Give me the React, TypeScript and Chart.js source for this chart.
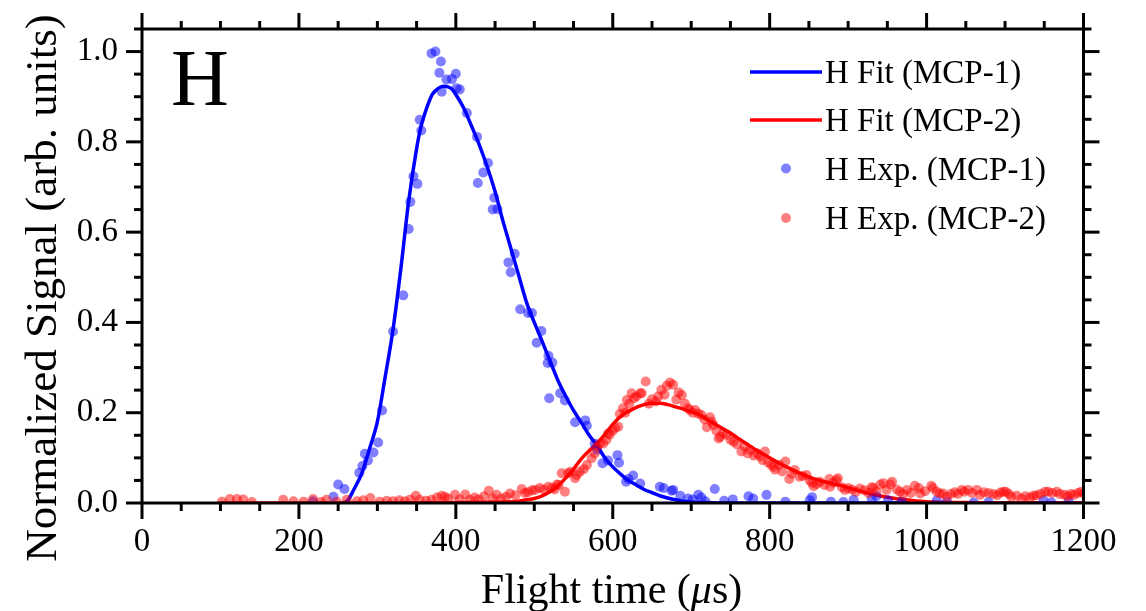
import React, { useEffect, useRef } from 'react';
import { Chart, registerables } from 'chart.js';

Chart.register(...registerables);

const FONT = "'Liberation Serif', 'Times New Roman', serif";

// ---------- axis ticks ----------
const X_TICK_VALUES = [0, 200, 400, 600, 800, 1000, 1200];
const Y_TICK_VALUES = [0, 0.2, 0.4, 0.6, 0.8, 1.0];
const X_MINOR_STEP = 50;
const Y_MINOR_STEP = 0.05;
const X_MIN = 0;
const X_MAX = 1200;
const Y_MIN = 0;
const Y_MAX = 1.05;

// ---------- labels ----------
const SERIES_LABELS = ['H Fit (MCP-1)', 'H Fit (MCP-2)', 'H Exp. (MCP-1)', 'H Exp. (MCP-2)'];
const PANEL_LABEL = 'H';
const Y_TITLE = 'Normalized Signal (arb. units)';

// ---------- fit curves ----------
const FIT1_T = [255, 262, 270, 280, 290, 300, 310, 320, 330, 340, 350, 355, 360, 365, 370, 375, 380, 385, 390, 395, 400, 410, 420, 430, 440, 450, 460, 470, 480, 490, 500, 510, 520, 530, 540, 550, 560, 570, 580, 590, 600, 610, 620, 630, 640, 650, 660, 670, 680, 690, 700, 720, 750, 800, 900, 1000, 1100, 1200];
const FIT1_V = [0, 0.005, 0.03, 0.065, 0.12, 0.18, 0.28, 0.385, 0.52, 0.67, 0.785, 0.83, 0.86, 0.885, 0.905, 0.915, 0.921, 0.923, 0.922, 0.917, 0.905, 0.875, 0.835, 0.793, 0.745, 0.69, 0.625, 0.565, 0.505, 0.445, 0.4, 0.358, 0.315, 0.272, 0.237, 0.205, 0.178, 0.15, 0.127, 0.1, 0.08, 0.064, 0.05, 0.04, 0.03, 0.023, 0.016, 0.011, 0.007, 0.004, 0.002, 0.001, 0, 0, 0, 0, 0, 0];

const FIT2_T = [100, 200, 300, 400, 450, 480, 490, 500, 510, 520, 530, 540, 550, 560, 570, 580, 590, 600, 610, 620, 630, 640, 650, 660, 670, 680, 690, 700, 710, 720, 730, 740, 750, 760, 770, 780, 790, 800, 810, 820, 830, 840, 850, 860, 870, 880, 890, 900, 920, 940, 960, 980, 1000, 1050, 1100, 1200];
const FIT2_V = [0, 0, 0, 0.001, 0.002, 0.004, 0.007, 0.01, 0.016, 0.025, 0.038, 0.055, 0.075, 0.098, 0.116, 0.132, 0.152, 0.174, 0.192, 0.203, 0.212, 0.218, 0.221, 0.221, 0.218, 0.213, 0.208, 0.202, 0.196, 0.185, 0.175, 0.165, 0.155, 0.143, 0.132, 0.12, 0.11, 0.1, 0.09, 0.081, 0.073, 0.065, 0.058, 0.052, 0.047, 0.043, 0.039, 0.034, 0.024, 0.016, 0.01, 0.006, 0.003, 0.001, 0, 0];

// ---------- experimental points ----------
const EXP1_T = [218, 244, 250, 258, 277, 281, 284, 288, 295, 301, 306, 320, 333, 340, 342, 346, 351, 354, 356, 369, 374, 379, 381, 382, 388, 395, 400, 401, 405, 414, 427, 428, 435, 441, 447, 449, 453, 467, 470, 475, 482, 492, 497, 503, 509, 517, 518, 519, 523, 533, 539, 552, 565, 567, 577, 580, 587, 594, 606, 608, 617, 620, 626, 635, 660, 665, 675, 677, 686, 696, 702, 709, 713, 718, 730, 742, 753, 773, 779, 796, 820, 851, 854, 878, 894, 907, 930, 936, 951, 968, 1013, 1026, 1060, 1079, 1149, 1159, 1181];
const EXP1_V = [0.004, 0.014, 0.041, 0.031, 0.067, 0.082, 0.109, 0.094, 0.112, 0.134, 0.205, 0.38, 0.46, 0.607, 0.667, 0.724, 0.707, 0.849, 0.825, 0.996, 1.0, 0.953, 0.978, 0.911, 0.938, 0.939, 0.951, 0.919, 0.916, 0.864, 0.811, 0.709, 0.732, 0.753, 0.65, 0.676, 0.651, 0.533, 0.511, 0.552, 0.429, 0.421, 0.421, 0.355, 0.381, 0.31, 0.326, 0.232, 0.311, 0.243, 0.227, 0.179, 0.183, 0.171, 0.131, 0.118, 0.088, 0.094, 0.106, 0.089, 0.047, 0.053, 0.061, 0.043, 0.036, 0.033, 0.027, 0.029, 0.016, 0.01, 0.008, 0.018, 0.012, 0.004, 0.031, 0.005, 0.008, 0.015, 0.01, 0.018, 0.003, 0.006, 0.013, 0.003, 0.002, 0.007, 0.01, 0.015, 0.006, 0.003, 0.006, 0.003, 0.001, 0.002, 0.006, 0.001, 0.004];

const EXP2_T = [102, 112, 121, 129, 140, 180, 193, 206, 218, 228, 235, 248, 261, 274, 282, 291, 303, 312, 320, 328, 335, 342, 349, 354, 362, 369, 376, 382, 386, 390, 399, 405, 412, 418, 424, 429, 436, 442, 447, 452, 458, 464, 469, 476, 484, 488, 492, 497, 501, 507, 512, 518, 523, 526, 529, 531, 535, 539, 543, 546, 552, 554, 558, 563, 567, 573, 577, 580, 584, 588, 592, 594, 596, 600, 603, 607, 609, 613, 616, 618, 621, 624, 627, 630, 635, 637, 642, 646, 650, 655, 658, 662, 666, 669, 673, 677, 681, 684, 688, 692, 696, 698, 702, 705, 709, 713, 717, 720, 724, 726, 728, 732, 735, 737, 741, 745, 750, 754, 758, 764, 768, 772, 775, 780, 784, 788, 791, 794, 798, 802, 805, 807, 812, 816, 820, 825, 828, 832, 838, 842, 847, 851, 854, 856, 860, 864, 870, 876, 877, 881, 885, 887, 892, 896, 900, 905, 910, 915, 921, 926, 930, 932, 936, 941, 945, 949, 954, 956, 962, 966, 970, 975, 980, 985, 990, 992, 998, 1006, 1008, 1013, 1017, 1021, 1026, 1031, 1036, 1040, 1045, 1048, 1053, 1058, 1064, 1068, 1073, 1079, 1085, 1090, 1094, 1098, 1101, 1105, 1108, 1115, 1121, 1126, 1132, 1136, 1140, 1145, 1151, 1155, 1160, 1166, 1170, 1176, 1180, 1184, 1188, 1193, 1197, 1200];
const EXP2_V = [0.003, 0.009, 0.009, 0.008, 0.002, 0.007, 0.004, 0.003, 0.009, 0.002, 0.007, 0.003, 0.007, 0.004, 0.006, 0.011, 0.003, 0.005, 0.004, 0.006, 0.004, 0.008, 0.016, 0.007, 0.005, 0.007, 0.012, 0.016, 0.014, 0.01, 0.018, 0.008, 0.019, 0.007, 0.012, 0.008, 0.015, 0.027, 0.01, 0.018, 0.01, 0.014, 0.021, 0.017, 0.031, 0.022, 0.024, 0.028, 0.029, 0.033, 0.03, 0.036, 0.034, 0.03, 0.041, 0.04, 0.066, 0.025, 0.066, 0.069, 0.055, 0.062, 0.069, 0.075, 0.084, 0.099, 0.11, 0.125, 0.132, 0.132, 0.14, 0.154, 0.151, 0.16, 0.166, 0.169, 0.197, 0.21, 0.2, 0.228, 0.22, 0.243, 0.232, 0.236, 0.243, 0.243, 0.269, 0.22, 0.23, 0.225, 0.236, 0.251, 0.24, 0.26, 0.267, 0.262, 0.229, 0.245, 0.239, 0.22, 0.21, 0.206, 0.2, 0.206, 0.198, 0.195, 0.185, 0.168, 0.19, 0.18, 0.173, 0.16, 0.143, 0.147, 0.155, 0.151, 0.14, 0.136, 0.13, 0.114, 0.125, 0.11, 0.118, 0.105, 0.11, 0.103, 0.095, 0.114, 0.09, 0.084, 0.08, 0.074, 0.085, 0.07, 0.092, 0.053, 0.065, 0.073, 0.058, 0.06, 0.062, 0.05, 0.045, 0.037, 0.042, 0.047, 0.04, 0.053, 0.036, 0.045, 0.051, 0.055, 0.035, 0.029, 0.033, 0.03, 0.025, 0.032, 0.028, 0.022, 0.035, 0.033, 0.025, 0.041, 0.044, 0.029, 0.041, 0.047, 0.03, 0.025, 0.02, 0.029, 0.022, 0.038, 0.033, 0.021, 0.026, 0.038, 0.033, 0.025, 0.021, 0.021, 0.014, 0.02, 0.024, 0.02, 0.029, 0.025, 0.029, 0.022, 0.029, 0.018, 0.024, 0.022, 0.02, 0.017, 0.023, 0.025, 0.025, 0.02, 0.014, 0.016, 0.01, 0.015, 0.012, 0.016, 0.017, 0.02, 0.025, 0.025, 0.022, 0.025, 0.02, 0.018, 0.015, 0.02, 0.018, 0.022, 0.025, 0.021];

const BLUE = '#0000ff';
const RED = '#ff0000';
const BLUE_PT = 'rgba(0,0,255,0.5)';
const RED_PT = 'rgba(255,0,0,0.5)';

const toXY = (t: number[], v: number[]) => t.map((x, i) => ({ x, y: v[i] }));

const decorPlugin = {
  id: 'decor',
  afterDatasetsDraw(chart: any) {
    const { ctx, chartArea: a, scales } = chart;
    const xs = scales.x;
    const ys = scales.y;
    const MAJ = 16;
    const MIN = 8;
    ctx.save();
    ctx.strokeStyle = '#000';
    ctx.lineWidth = 3;
    ctx.lineCap = 'butt';
    const seg = (x1: number, y1: number, x2: number, y2: number) => {
      ctx.beginPath();
      ctx.moveTo(x1, y1);
      ctx.lineTo(x2, y2);
      ctx.stroke();
    };
    for (let v = X_MIN; v <= X_MAX + 1e-9; v += X_MINOR_STEP) {
      const major = X_TICK_VALUES.some((m) => Math.abs(m - v) < 1e-6);
      const len = major ? MAJ : MIN;
      const p = xs.getPixelForValue(v);
      seg(p, a.bottom, p, a.bottom + len);
      seg(p, a.top, p, a.top - len);
    }
    const nY = Math.round((Y_MAX - Y_MIN) / Y_MINOR_STEP);
    for (let i = 0; i <= nY; i++) {
      const v = Y_MIN + i * Y_MINOR_STEP;
      const major = Y_TICK_VALUES.some((m) => Math.abs(m - v) < 1e-6);
      const len = major ? MAJ : MIN;
      const p = ys.getPixelForValue(v);
      seg(a.left, p, a.left - len, p);
      seg(a.right, p, a.right + len, p);
    }
    ctx.strokeRect(a.left, a.top, a.right - a.left, a.bottom - a.top);
    ctx.restore();
  },
  afterDraw(chart: any) {
    const { ctx } = chart;
    ctx.save();
    ctx.fillStyle = '#000';
    ctx.font = `80px ${FONT}`;
    ctx.textAlign = 'left';
    ctx.textBaseline = 'alphabetic';
    ctx.fillText(PANEL_LABEL, 171, 105);

    const rows = [72, 120, 168.5, 218];
    const colors = [BLUE, RED, BLUE_PT, RED_PT];
    ctx.font = `33px ${FONT}`;
    rows.forEach((ry, i) => {
      if (i < 2) {
        ctx.strokeStyle = colors[i];
        ctx.lineWidth = 3.5;
        ctx.beginPath();
        ctx.moveTo(750, ry);
        ctx.lineTo(822, ry);
        ctx.stroke();
      } else {
        ctx.fillStyle = colors[i];
        ctx.beginPath();
        ctx.arc(786, ry, 5, 0, Math.PI * 2);
        ctx.fill();
      }
      ctx.fillStyle = '#000';
      ctx.fillText(SERIES_LABELS[i], 825, ry + 11);
    });

    ctx.save();
    ctx.font = `45px ${FONT}`;
    ctx.translate(56, 288);
    ctx.rotate(-Math.PI / 2);
    ctx.textAlign = 'center';
    ctx.textBaseline = 'alphabetic';
    ctx.fillText(Y_TITLE, 0, 0);
    ctx.restore();

    const parts = [
      { t: 'Flight time (', f: `42px ${FONT}` },
      { t: '\u03bc', f: `italic 42px ${FONT}` },
      { t: 's)', f: `42px ${FONT}` },
    ];
    let total = 0;
    parts.forEach((p) => {
      ctx.font = p.f;
      total += ctx.measureText(p.t).width;
    });
    let cx = 611.5 - total / 2;
    ctx.textAlign = 'left';
    parts.forEach((p) => {
      ctx.font = p.f;
      ctx.fillText(p.t, cx, 603);
      cx += ctx.measureText(p.t).width;
    });
    ctx.restore();
  },
};

export default function App() {
  const ref = useRef<HTMLCanvasElement | null>(null);
  useEffect(() => {
    if (!ref.current) return;
    const chart = new Chart(ref.current, {
      type: 'scatter',
      data: {
        datasets: [
          {
            label: SERIES_LABELS[0],
            data: toXY(FIT1_T, FIT1_V),
            showLine: true,
            borderColor: BLUE,
            borderWidth: 3.5,
            pointRadius: 0,
            pointHoverRadius: 0,
            cubicInterpolationMode: 'monotone',
            order: 4,
          },
          {
            label: SERIES_LABELS[1],
            data: toXY(FIT2_T, FIT2_V),
            showLine: true,
            borderColor: RED,
            borderWidth: 3.5,
            pointRadius: 0,
            pointHoverRadius: 0,
            cubicInterpolationMode: 'monotone',
            order: 3,
          },
          {
            label: SERIES_LABELS[2],
            data: toXY(EXP1_T, EXP1_V),
            showLine: false,
            backgroundColor: BLUE_PT,
            borderWidth: 0,
            pointRadius: 5,
            pointHoverRadius: 5,
            order: 2,
          },
          {
            label: SERIES_LABELS[3],
            data: toXY(EXP2_T, EXP2_V),
            showLine: false,
            backgroundColor: RED_PT,
            borderWidth: 0,
            pointRadius: 5,
            pointHoverRadius: 5,
            order: 1,
          },
        ],
      } as any,
      options: {
        animation: false,
        responsive: false,
        maintainAspectRatio: false,
        events: [],
        layout: { padding: { top: 29, right: 62.5, left: 0, bottom: 0 } },
        plugins: { legend: { display: false }, tooltip: { enabled: false } },
        scales: {
          x: {
            type: 'linear',
            min: X_MIN,
            max: X_MAX,
            grid: { display: false, drawTicks: false },
            border: { display: false },
            afterBuildTicks: (s: any) => {
              s.ticks = X_TICK_VALUES.map((value) => ({ value }));
            },
            afterFit: (s: any) => {
              s.height = 108;
              s.paddingLeft = 0;
              s.paddingRight = 0;
              s.paddingTop = 0;
              s.paddingBottom = 0;
            },
            ticks: {
              color: '#000',
              padding: 20,
              maxRotation: 0,
              autoSkip: false,
              font: { family: FONT, size: 33 },
              callback: (v: any) => String(v),
            },
          },
          y: {
            type: 'linear',
            min: Y_MIN,
            max: Y_MAX,
            grid: { display: false, drawTicks: false },
            border: { display: false },
            afterBuildTicks: (s: any) => {
              s.ticks = Y_TICK_VALUES.map((value) => ({ value }));
            },
            afterFit: (s: any) => {
              s.width = 142;
              s.paddingLeft = 0;
              s.paddingRight = 0;
              s.paddingTop = 0;
              s.paddingBottom = 0;
            },
            ticks: {
              color: '#000',
              padding: 24,
              autoSkip: false,
              font: { family: FONT, size: 33 },
              callback: (v: any) => Number(v).toFixed(1),
            },
          },
        },
      } as any,
      plugins: [decorPlugin],
    });
    return () => chart.destroy();
  }, []);

  return (
    <div style={{ position: 'absolute', left: 0, top: 0, width: 1146, height: 611, background: '#fff' }}>
      <canvas ref={ref} width={1146} height={611} style={{ display: 'block' }} />
    </div>
  );
}
